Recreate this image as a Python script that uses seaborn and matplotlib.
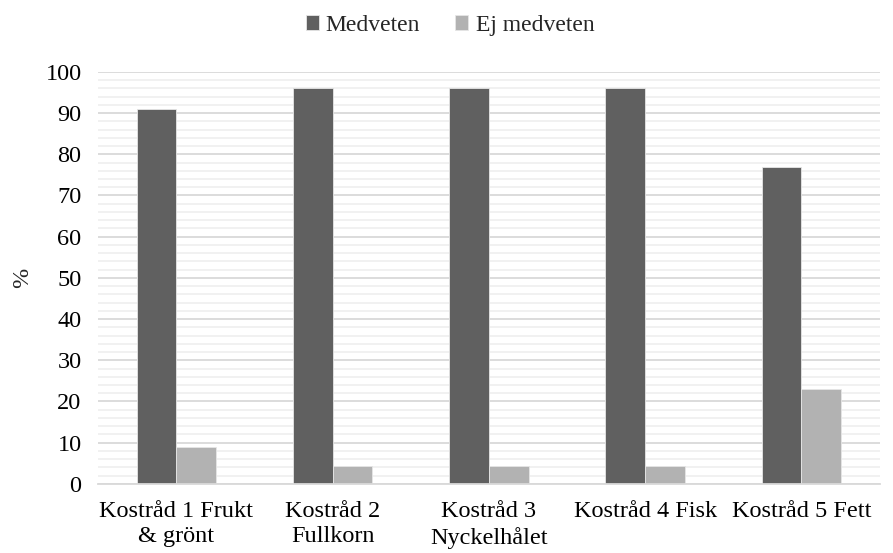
import matplotlib
matplotlib.use("Agg")
import matplotlib.pyplot as plt
import seaborn as sns
import pandas as pd
from matplotlib.ticker import MultipleLocator

categories = ["Kostråd 1 Frukt\n& grönt", "Kostråd 2\nFullkorn", "Kostråd 3\nNyckelhålet",
              "Kostråd 4 Fisk", "Kostråd 5 Fett"]
medveten = [91, 96, 96, 96, 77]
ej_medveten = [9, 4.3, 4.3, 4.3, 23]
series = ["Medveten", "Ej medveten"]
colors = ["#606060", "#b2b2b2"]

df = pd.DataFrame({
    "Kategori": categories * 2,
    "Serie": [series[0]] * 5 + [series[1]] * 5,
    "Värde": medveten + ej_medveten,
})

sns.set_theme(style="white")
plt.rcParams["font.family"] = ["Liberation Serif", "DejaVu Serif"]

fig = plt.figure(figsize=(8.93, 5.53), dpi=100)
ax = fig.add_axes([0.11, 0.125, 0.875, 0.745])

sns.barplot(data=df, x="Kategori", y="Värde", hue="Serie", palette=colors,
            width=0.51, ax=ax, edgecolor="#e6e6e6", linewidth=0.6, saturation=1)

ax.set_ylim(0, 100)
ax.set_xlim(-0.5, 4.5)
ax.yaxis.set_major_locator(MultipleLocator(10))
ax.yaxis.set_minor_locator(MultipleLocator(2))
ax.grid(which="major", axis="y", color="#d9d9d9", linewidth=1.3)
ax.grid(which="minor", axis="y", color="#f0f0f0", linewidth=1.3)
ax.set_axisbelow(True)
for s in ["top", "right", "left"]:
    ax.spines[s].set_visible(False)
ax.spines["bottom"].set_color("#d9d9d9")
ax.spines["bottom"].set_linewidth(1.3)
ax.tick_params(axis="both", which="both", length=0, labelsize=17.5, colors="#000000")
ax.tick_params(axis="y", pad=12)
ax.tick_params(axis="x", pad=12)
for lbl in ax.get_xticklabels():
    lbl.set_linespacing(1.3)
ax.set_xlabel("")
ax.set_ylabel("%", fontsize=17.5, labelpad=9)

ax.legend(loc="upper center", bbox_to_anchor=(0.45, 1.19), ncol=2, frameon=False,
          fontsize=17, handlelength=0.55, handleheight=0.55, columnspacing=1.5, handletextpad=0.3)

fig.savefig("out.png", dpi=100)
